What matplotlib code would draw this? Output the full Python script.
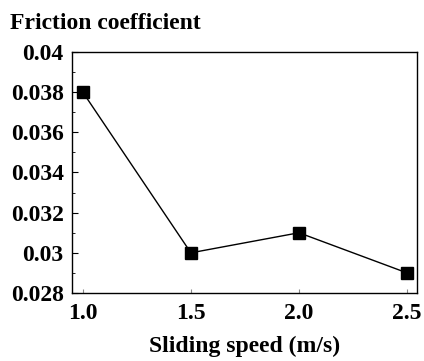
import matplotlib
matplotlib.use("Agg")
import matplotlib.pyplot as plt
from matplotlib.ticker import MultipleLocator

speed = [1.0, 1.5, 2.0, 2.5]
friction = [0.038, 0.030, 0.031, 0.029]

x_ticks = [1.0, 1.5, 2.0, 2.5]
x_labels = ["1.0", "1.5", "2.0", "2.5"]
y_ticks = [0.028, 0.03, 0.032, 0.034, 0.036, 0.038, 0.04]
y_labels = ["0.028", "0.03", "0.032", "0.034", "0.036", "0.038", "0.04"]

plt.rcParams['font.family'] = ['Liberation Serif', 'DejaVu Serif']
plt.rcParams['font.weight'] = 'bold'

fig = plt.figure(figsize=(4.24, 3.61), dpi=100)
ax = fig.add_axes([72 / 424, 1 - 293 / 361, 345 / 424, 241 / 361])

ax.plot(speed, friction, color='black', linewidth=1.0, marker='s', markersize=8.5)

ax.set_xlim(0.95, 2.546)
ax.set_ylim(0.028, 0.04)
ax.set_xticks(x_ticks)
ax.set_xticklabels(x_labels, fontsize=17, fontweight='bold')
ax.set_yticks(y_ticks)
ax.set_yticklabels(y_labels, fontsize=17, fontweight='bold')
ax.yaxis.set_minor_locator(MultipleLocator(0.001))
ax.tick_params(axis='y', which='major', direction='in', length=4, width=0.8, pad=6)
ax.tick_params(axis='y', which='minor', direction='in', length=2, width=0.6)
ax.tick_params(axis='x', which='major', direction='in', length=3, width=0.8,
               color='#888888', pad=7)
for sp in ax.spines.values():
    sp.set_linewidth(1.0)

fig.text(10 / 424, 1 - 29 / 361, "Friction coefficient", fontsize=17, fontweight='bold', ha='left', va='baseline')
fig.text(245 / 424, 1 - 352 / 361, "Sliding speed (m/s)", fontsize=17, fontweight='bold', ha='center', va='baseline')

fig.savefig("out.png", dpi=100)
